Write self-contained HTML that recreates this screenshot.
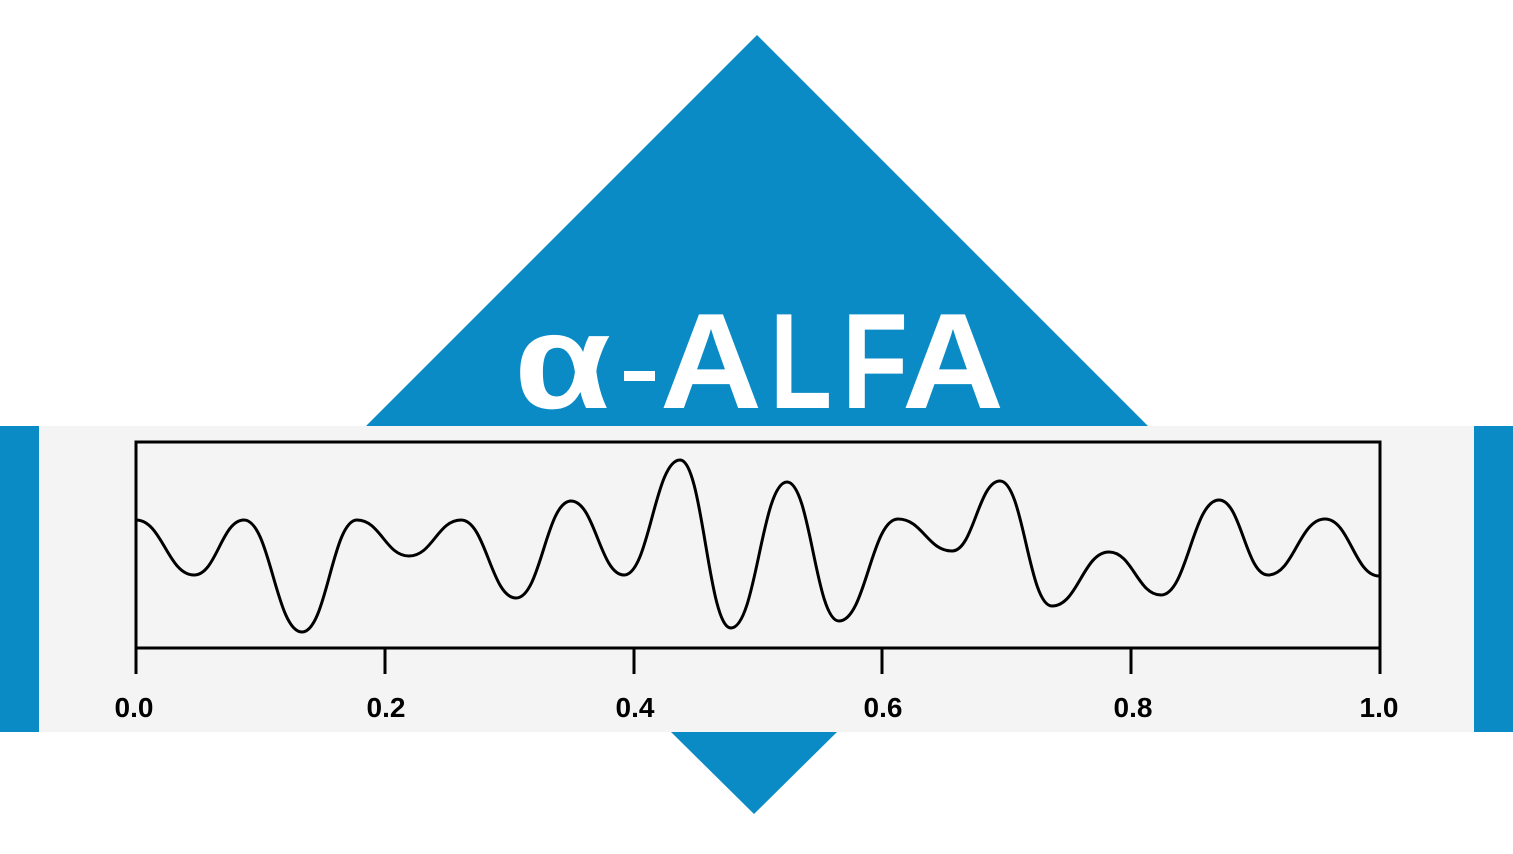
<!DOCTYPE html>
<html><head><meta charset="utf-8"><style>
html,body{margin:0;padding:0;background:#fff;}
svg{display:block;}
</style></head><body>
<svg width="1513" height="854" viewBox="0 0 1513 854" xmlns="http://www.w3.org/2000/svg">
<rect width="1513" height="854" fill="#fff"/>
<polygon points="757,35 1148,426 366,426" fill="#0a8bc5"/>
<polygon points="671,732 837,732 754,814" fill="#0a8bc5"/>
<rect x="0" y="426" width="1513" height="306" fill="#f4f4f4"/>
<rect x="0" y="426" width="39" height="306" fill="#0a8bc5"/>
<rect x="1474" y="426" width="39" height="306" fill="#0a8bc5"/>
<g font-family="Liberation Sans, sans-serif" font-weight="bold" font-size="136" fill="#fff">
<text x="514" y="408" textLength="97" lengthAdjust="spacingAndGlyphs">α</text>
<rect x="624" y="371" width="31" height="10"/>
<text x="660" y="408" textLength="102" lengthAdjust="spacingAndGlyphs">A</text>
<text x="770" y="408" textLength="62" lengthAdjust="spacingAndGlyphs">L</text>
<text x="842" y="408" textLength="66" lengthAdjust="spacingAndGlyphs">F</text>
<text x="902" y="408" textLength="102" lengthAdjust="spacingAndGlyphs">A</text>
</g>
<rect x="136" y="442" width="1244" height="206" fill="none" stroke="#000" stroke-width="3"/>
<g stroke="#000" stroke-width="3">
<line x1="136" y1="648" x2="136" y2="674"/>
<line x1="385" y1="648" x2="385" y2="674"/>
<line x1="634" y1="648" x2="634" y2="674"/>
<line x1="882" y1="648" x2="882" y2="674"/>
<line x1="1131" y1="648" x2="1131" y2="674"/>
<line x1="1380" y1="648" x2="1380" y2="674"/>
</g>
<g font-family="Liberation Sans, sans-serif" font-weight="bold" font-size="28" fill="#000" text-anchor="middle">
<text x="134" y="717">0.0</text>
<text x="386" y="717">0.2</text>
<text x="635" y="717">0.4</text>
<text x="883" y="717">0.6</text>
<text x="1133" y="717">0.8</text>
<text x="1379" y="717">1.0</text>
</g>
<path fill="none" stroke="#000" stroke-width="3" d="M136,520 C162.1,520 167.9,575 194,575 C216.5,575 221.5,520 244,520 C270.1,520 275.9,632 302,632 C326.75,632 332.25,520 357,520 C380.4,520 385.6,556 409,556 C432.4,556 437.6,520 461,520 C485.75,520 491.25,598 516,598 C540.75,598 546.25,501 571,501 C594.85,501 600.15,575 624,575 C649.2,575 654.8,460 680,460 C702.95,460 708.05,628 731,628 C756.2,628 761.8,482 787,482 C810.4,482 815.6,621 839,621 C865.55,621 871.45,519 898,519 C922.3,519 927.7,551 952,551 C973.6,551 978.4,481 1000,481 C1023.4,481 1028.6,606 1052,606 C1077.65,606 1083.35,552 1109,552 C1132.4,552 1137.6,595 1161,595 C1187.1,595 1192.9,500 1219,500 C1241.05,500 1245.95,575 1268,575 C1293.65,575 1299.35,519 1325,519 C1349.3,519 1354.7,576 1379,576"/>
</svg>
</body></html>
